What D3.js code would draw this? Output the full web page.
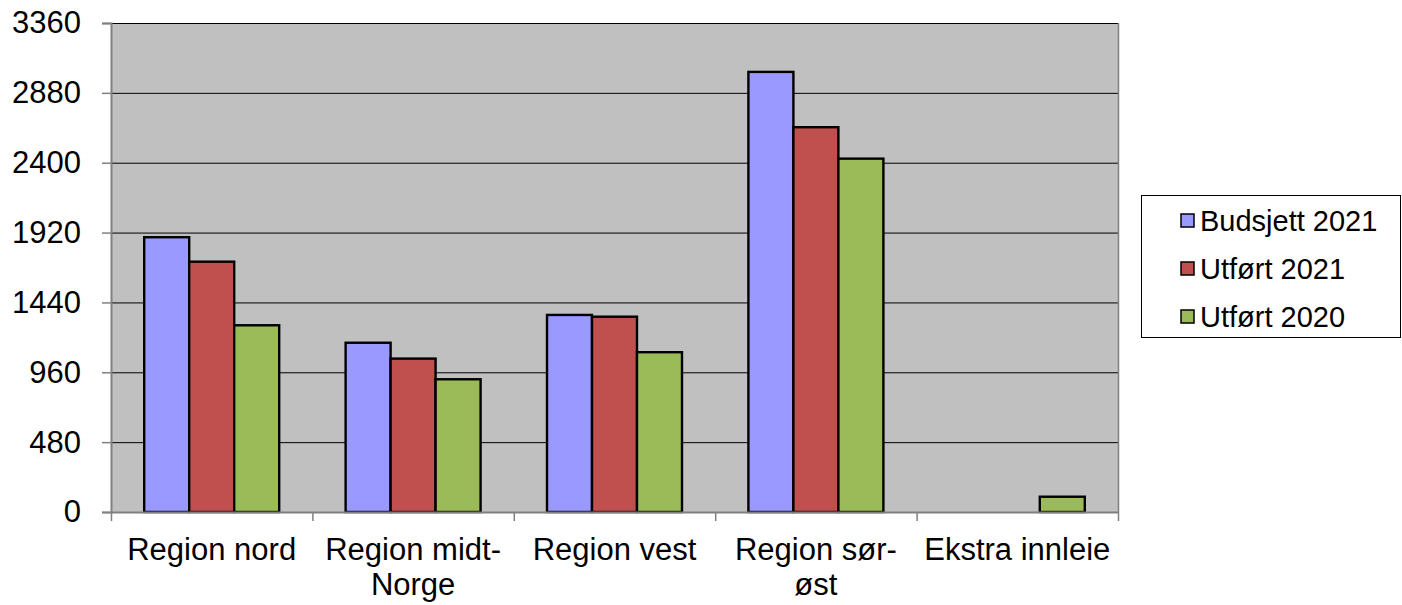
<!DOCTYPE html>
<html><head><meta charset="utf-8">
<script src="https://cdn.jsdelivr.net/npm/d3@7"></script>
<style>body{margin:0;background:#fff;} text{font-family:"Liberation Sans",Arial,sans-serif;}</style>
</head><body>
<svg id="c" width="1402" height="605"></svg>
<script>
const categories = ["Region nord", "Region midt-Norge", "Region vest", "Region sør-øst", "Ekstra innleie"];
const categoryLines = [["Region nord"], ["Region midt-", "Norge"], ["Region vest"], ["Region sør-", "øst"], ["Ekstra innleie"]];
const seriesNames = ["Budsjett 2021", "Utført 2021", "Utført 2020"];
const budsjett2021 = [1888, 1163, 1354, 3024, 0];
const utfort2021 = [1720, 1054, 1342, 2644, 0];
const utfort2020 = [1283, 912, 1098, 2428, 105];
const yTicks = [0, 480, 960, 1440, 1920, 2400, 2880, 3360];
const colors = ["#9999ff", "#c0504d", "#9bbb59"];
const series = [budsjett2021, utfort2021, utfort2020];

const svg = d3.select("#c");
const L = 111, R = 1118, T = 23, B = 512;
const x = d3.scaleBand().domain(categories).range([L, R]).paddingInner(0).paddingOuter(0);
const y = d3.scaleLinear().domain([0, 3360]).range([B, T]);
const xs = d3.scaleBand().domain(seriesNames).range([0, x.bandwidth()]).paddingOuter(0.738).paddingInner(0);

svg.append("rect").attr("x", L).attr("y", T).attr("width", R - L).attr("height", B - T).attr("fill", "#c0c0c0");
// gridlines
svg.append("g").selectAll("line").data(yTicks.filter(d => d > 0)).join("line")
  .attr("x1", L).attr("x2", R).attr("y1", d => y(d) + 0.5).attr("y2", d => y(d) + 0.5)
  .attr("stroke", "#000").attr("stroke-width", 1);
// right border
svg.append("line").attr("x1", R + 0.5).attr("x2", R + 0.5).attr("y1", T).attr("y2", B).attr("stroke", "#808080").attr("stroke-width", 1.5);

// bars
const g = svg.append("g");
categories.forEach((c, i) => {
  seriesNames.forEach((s, j) => {
    const v = series[j][i];
    if (v <= 0) return;
    g.append("rect")
      .attr("x", x(c) + xs(s))
      .attr("y", y(v))
      .attr("width", xs.bandwidth())
      .attr("height", y(0) - y(v))
      .attr("fill", colors[j]).attr("stroke", "#000").attr("stroke-width", 2.4);
  });
});

// y axis
const yAxis = d3.axisLeft(y).tickValues(yTicks).tickSize(9).tickPadding(21).tickFormat(d3.format("d"));
const ya = svg.append("g").attr("transform", `translate(${L},0)`).call(yAxis);
ya.select(".domain").attr("stroke", "#808080").attr("stroke-width", 2);
ya.selectAll(".tick line").attr("stroke", "#808080").attr("stroke-width", 1.5);
ya.selectAll(".tick text").attr("font-size", 31).attr("fill", "#000").attr("font-family", "Liberation Sans, Arial, sans-serif");

// x axis
const xa = svg.append("g").attr("transform", `translate(0,${B})`);
xa.append("line").attr("x1", L).attr("x2", R + 1).attr("y1", 0.5).attr("y2", 0.5).attr("stroke", "#808080").attr("stroke-width", 2);
const bounds = categories.map(c => x(c)).concat([R]);
xa.selectAll("line.t").data(bounds).join("line").attr("class", "t")
  .attr("x1", d => d + 0.5).attr("x2", d => d + 0.5).attr("y1", 0).attr("y2", 9)
  .attr("stroke", "#808080").attr("stroke-width", 1.5);
categories.forEach((c, i) => {
  const t = xa.append("text").attr("text-anchor", "middle").attr("font-size", 31).attr("fill", "#000");
  categoryLines[i].forEach((ln, k) => {
    t.append("tspan").attr("x", x(c) + x.bandwidth() / 2).attr("y", 48 + k * 35).text(ln);
  });
});

// legend
const lg = svg.append("g");
lg.append("rect").attr("x", 1141.5).attr("y", 195.5).attr("width", 259).attr("height", 142).attr("fill", "#fff").attr("stroke", "#000").attr("stroke-width", 1);
seriesNames.forEach((s, j) => {
  const cy = 221 + j * 48;
  lg.append("rect").attr("x", 1181).attr("y", cy - 7).attr("width", 13).attr("height", 13)
    .attr("fill", colors[j]).attr("stroke", "#000").attr("stroke-width", 1.5);
  lg.append("text").attr("x", 1200).attr("y", cy + 10).attr("font-size", 29).attr("fill", "#000").text(s);
});
</script>
</body></html>
